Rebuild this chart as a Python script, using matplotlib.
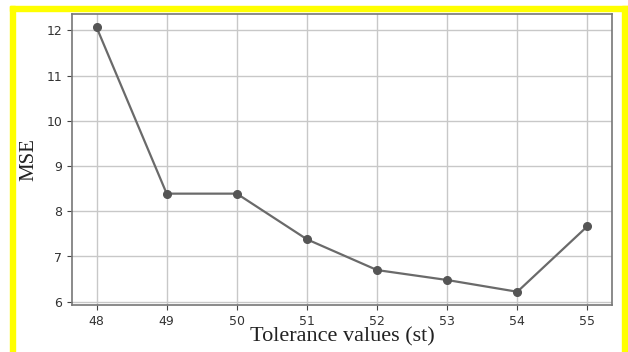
import matplotlib
matplotlib.use("Agg")
import matplotlib.pyplot as plt
from matplotlib.patches import Rectangle

tolerance = [48, 49, 50, 51, 52, 53, 54, 55]
mse = [12.07, 8.39, 8.39, 7.38, 6.70, 6.48, 6.22, 7.67]
xlabel = "Tolerance values (st)"
ylabel = "MSE"

fig = plt.figure(figsize=(6.28, 3.52), dpi=100)
ax = fig.add_axes([72/628, 1 - 305/352, (612-72)/628, (305-14)/352])

ax.plot(tolerance, mse, color="#6a6a6a", linewidth=1.6, marker="o",
        markersize=5.5, markerfacecolor="#555555", markeredgecolor="#555555")
ax.grid(True, color="#c8c8c8", linewidth=1.0)
ax.set_axisbelow(True)
ax.set_xticks(tolerance)
ax.set_yticks([6, 7, 8, 9, 10, 11, 12])
ax.tick_params(labelsize=9, colors="#444444", labelcolor="#333333")
for s in ax.spines.values():
    s.set_color("#777777")
    s.set_linewidth(1.2)

ax.set_xlabel(xlabel, family="Liberation Serif", fontsize=16, color="#222222", labelpad=0)
ax.set_ylabel(ylabel, family="Liberation Serif", fontsize=15, color="#222222", labelpad=6)

# yellow frame (left, top, right)
yc = "#ffff00"
fig.add_artist(Rectangle((10/628, 0), 5/628, 1 - 6/352, transform=fig.transFigure,
                         color=yc, zorder=10))
fig.add_artist(Rectangle((10/628, 1 - 11/352), (628-10)/628, 5/352, transform=fig.transFigure,
                         color=yc, zorder=10))
fig.add_artist(Rectangle((622/628, 0), 6/628, 1 - 6/352, transform=fig.transFigure,
                         color=yc, zorder=10))

fig.savefig("out.png", dpi=100)
